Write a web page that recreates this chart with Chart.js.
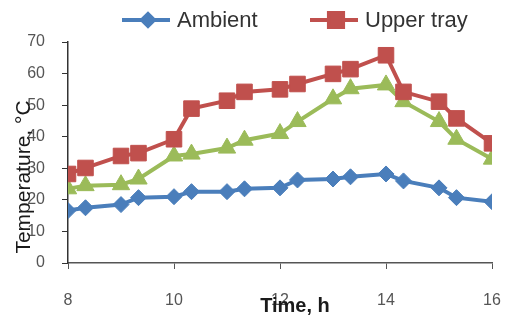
<!DOCTYPE html>
<html>
<head>
<meta charset="utf-8">
<script src="https://cdn.jsdelivr.net/npm/chart.js@4/dist/chart.umd.min.js"></script>
<style>
  html, body { margin: 0; padding: 0; background: #fff; }
  #wrap { width: 514px; height: 320px; }
</style>
</head>
<body>
<div id="wrap"><canvas id="grafico" width="514" height="320"></canvas></div>
<script>
// Time of day (h) and temperatures (°C)
const horas = [8, 8.33, 9, 9.33, 10, 10.33, 11, 11.33, 12, 12.33, 13, 13.33, 14, 14.33, 15, 15.33, 16];
const ambiente = [16.6, 17.5, 18.5, 20.7, 21, 22.6, 22.6, 23.5, 23.8, 26.3, 26.6, 27.3, 28.2, 26, 23.8, 20.7, 19.4];
const bandejaSuperior = [28.2, 30.1, 33.9, 34.8, 39.2, 48.9, 51.4, 54.2, 55, 56.7, 59.9, 61.4, 65.8, 54.2, 51.1, 45.8, 37.9];
const bandejaInferior = [23.5, 24.5, 24.8, 26.6, 33.9, 34.5, 36.4, 38.9, 41, 44.8, 52, 55.2, 56.4, 51.1, 44.8, 39.2, 32.9];
const ticksX = [8, 10, 12, 14, 16];
const ticksY = [0, 10, 20, 30, 40, 50, 60, 70];

const fonte = "'Liberation Sans', Arial, sans-serif";

function pontos(valores) {
  return horas.map((h, i) => ({ x: h, y: valores[i] }));
}

// Legend (line + marker) and axis titles drawn on top
const extras = {
  id: 'extras',
  afterDraw(chart) {
    const ctx = chart.ctx;
    ctx.save();

    // legend, only the first two series as in the picture
    const itens = [
      { ds: chart.data.datasets[0], x: 122, r: 6 },
      { ds: chart.data.datasets[1], x: 310, r: 10 }
    ];
    const yLeg = 20;
    itens.forEach(it => {
      const ds = it.ds;
      ctx.strokeStyle = ds.borderColor;
      ctx.lineWidth = 4;
      ctx.beginPath();
      ctx.moveTo(it.x, yLeg);
      ctx.lineTo(it.x + 48, yLeg);
      ctx.stroke();
      ctx.fillStyle = ds.pointBackgroundColor;
      ctx.strokeStyle = ds.pointBorderColor;
      Chart.helpers.drawPoint(ctx, {
        pointStyle: ds.pointStyle, radius: it.r, rotation: 0, borderWidth: 1
      }, it.x + 26, yLeg);
      ctx.fillStyle = '#333';
      ctx.font = '22px ' + fonte;
      ctx.textAlign = 'left';
      ctx.textBaseline = 'middle';
      ctx.fillText(ds.label, it.x + 55, yLeg + 1);
    });

    // axis titles, overlapping the tick labels like the original
    ctx.fillStyle = '#1a1a1a';
    ctx.textAlign = 'center';
    ctx.textBaseline = 'middle';
    ctx.font = 'bold 20px ' + fonte;
    ctx.fillText('Time, h', 295, 306);

    ctx.font = '21px ' + fonte;
    ctx.translate(24, 177);
    ctx.rotate(-Math.PI / 2);
    ctx.fillText('Temperature, °C', 0, 0);
    ctx.restore();
  }
};

new Chart(document.getElementById('grafico'), {
  type: 'line',
  data: {
    datasets: [
      {
        label: 'Ambient', data: pontos(ambiente),
        borderColor: '#4a7ebb', backgroundColor: '#4a7ebb',
        pointStyle: 'rectRot', pointRadius: 8,
        pointBackgroundColor: '#4a7ebb', pointBorderColor: '#4a7ebb'
      },
      {
        label: 'Upper tray', data: pontos(bandejaSuperior),
        borderColor: '#c0504d', backgroundColor: '#c0504d',
        pointStyle: 'rect', pointRadius: 11,
        pointBackgroundColor: '#c0504d', pointBorderColor: '#c0504d'
      },
      {
        label: 'Lower tray', data: pontos(bandejaInferior),
        borderColor: '#9bbb59', backgroundColor: '#9bbb59',
        pointStyle: 'triangle', pointRadius: 10,
        pointBackgroundColor: '#9bbb59', pointBorderColor: '#9bbb59'
      }
    ]
  },
  options: {
    responsive: false,
    animation: false,
    elements: { line: { borderWidth: 4, tension: 0 }, point: { borderWidth: 1 } },
    layout: { padding: { top: 42, right: 22, left: 0, bottom: 0 } },
    plugins: { legend: { display: false }, tooltip: { enabled: false } },
    scales: {
      x: {
        type: 'linear', min: 8, max: 16,
        afterBuildTicks(axis) { axis.ticks = ticksX.map(v => ({ value: v })); },
        afterFit(axis) { axis.height = 57; axis.paddingLeft = 0; axis.paddingRight = 0; },
        grid: { drawOnChartArea: false, drawTicks: true, tickLength: 6, color: '#555' },
        border: { color: '#555', width: 1.5 },
        ticks: { color: '#555', padding: 22, font: { family: fonte, size: 16 } }
      },
      y: {
        min: 0, max: 70,
        afterBuildTicks(axis) { axis.ticks = ticksY.map(v => ({ value: v })); },
        afterFit(axis) { axis.width = 68; axis.paddingTop = 0; axis.paddingBottom = 0; },
        grid: { drawOnChartArea: false, drawTicks: true, tickLength: 6, color: '#333' },
        border: { color: '#333', width: 1.5 },
        ticks: { color: '#555', padding: 17, font: { family: fonte, size: 16 } }
      }
    }
  },
  plugins: [extras]
});
</script>
</body>
</html>
